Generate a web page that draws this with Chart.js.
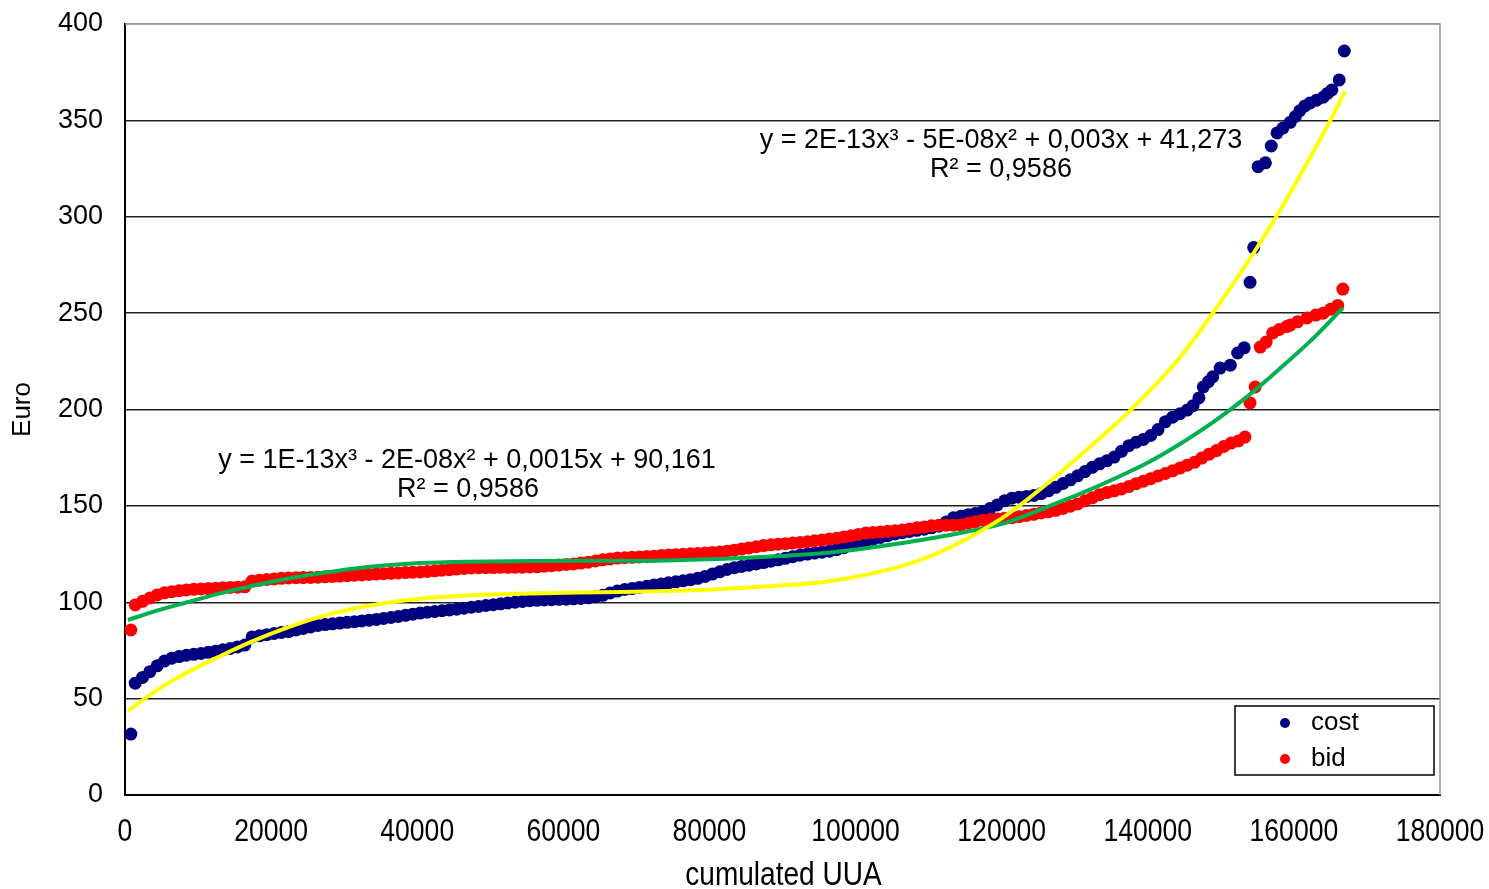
<!DOCTYPE html>
<html><head><meta charset="utf-8">
<script src="https://cdn.jsdelivr.net/npm/chart.js@4.4.1/dist/chart.umd.min.js"></script>
<style>html,body{margin:0;padding:0;background:#fff}#wrap{width:1489px;height:889px}</style>
</head><body><div id="wrap"><canvas id="c" width="1489" height="889"></canvas></div>
<script>
// x positions (cumulated UUA) of the dense part of both point clouds
const denseX = [1400,2400,3400,4400,5400,6400,7400,8400,9400,10400,
11400,12400,13400,14400,15400,16400,17400,18400,19400,20400,
21400,22400,23400,24400,25400,26400,27400,28400,29400,30400,
31400,32400,33400,34400,35400,36400,37400,38400,39400,40400,
41400,42400,43400,44400,45400,46400,47400,48400,49400,50400,
51400,52400,53400,54400,55400,56400,57400,58400,59400,60400,
61400,62400,63400,64400,65400,66400,67400,68400,69400,70400,
71400,72400,73400,74400,75400,76400,77400,78400,79400,80400,
81400,82400,83400,84400,85400,86400,87400,88400,89400,90400,
91400,92400,93400,94400,95400,96400,97400,98400,99400,100400,
101400,102400,103400,104400,105400,106400,107400,108400,109400,110400,
111400,112400,113400,114400,115400,116400,117400,118400,119400,120400,
121400,122400,123400,124400,125400,126400,127400,128400,129400,130400,
131400,132400,133400,134400,135400,136400,137400,138400,139400,140400,
141400,142400,143400,144400,145400,146400,147400,148400,149400,150400,
151400,152400];

// cost (Euro)
const costDenseY = [58,61,64,67,69.5,71,71.8,72.5,73,73.4,
74,74.6,75.3,76,76.8,77.8,82,82.6,83.2,83.8,
84.3,84.8,85.6,86.4,87.2,88,88.4,88.8,89.2,89.6,
89.9,90.3,90.7,91.1,91.6,92.1,92.6,93.2,93.8,94.4,
94.8,95.2,95.6,96,96.4,96.9,97.4,97.8,98.3,98.7,
99.2,99.6,100,100.4,100.8,101,101.2,101.3,101.5,101.6,
101.8,102,102.3,102.8,103.6,104.8,105.8,106.6,107.1,107.7,
108.3,108.9,109.5,110.1,110.6,111.1,111.7,112.4,113.4,114.6,
115.8,117,117.9,118.6,119.2,119.9,120.6,121.3,122,122.8,
123.6,124.4,125,125.5,126,126.5,127.3,128.3,129.4,130.5,
131.7,132.7,133.6,134.5,135.4,136.1,136.7,137.3,137.9,138.6,
139.5,141.6,143.8,144.6,145.4,146.1,147,148.6,150.5,152.6,
154,154.5,154.9,155.4,156.4,157.8,159.6,161.6,163.5,165.6,
167.8,170,171.8,173.4,175.3,178.3,181.2,183,184.5,186.5,
189.6,193.6,196,197.8,199.7];
const costHeadX = [800];
const costHeadY = [31.6];
const costTailX = [146200,147000,147600,148300,148900,149900,151300,152300,153200,154000,154500,155100,156100,156900,157700,158500,159500,160200,160800,161500,162200,163100,164000,164600,165200,166200,166900];
const costTailY = [202,206,211.7,214.5,217,221.5,223,229.3,232,266,284,326,328,336.7,343.5,346,349,352,355,357.5,359,360.5,362,364,365.8,371,386];

// bid (Euro)
const bidDenseY = [98.6,100.5,102.2,103.8,104.9,105.5,106,106.4,106.7,106.9,
107.1,107.3,107.5,107.7,107.8,108,111,111.4,111.8,112.1,
112.4,112.6,112.7,112.8,112.9,113,113.2,113.4,113.6,113.8,
114,114.2,114.4,114.6,114.8,115,115.2,115.4,115.6,115.7,
116,116.3,116.6,116.9,117.2,117.5,117.8,117.9,118,118,
118.1,118.1,118.2,118.2,118.3,118.4,118.7,119,119.3,119.6,
119.9,120.3,120.8,121.4,122,122.5,122.9,123.1,123.3,123.5,
123.7,123.9,124.2,124.5,124.7,124.9,125.1,125.3,125.6,125.8,
126.1,126.5,127,127.6,128.2,128.8,129.4,129.8,130.1,130.4,
130.7,131,131.4,131.9,132.3,132.8,133.2,133.8,134.5,135.2,
135.9,136.2,136.5,136.8,137.1,137.5,138,138.6,139.1,139.7,
140,140,140,140.1,141,141.8,142.6,142.9,143.2,143.6,
143.9,144.4,145,145.6,146.3,146.9,147.7,148.7,149.8,151,
152.6,154.2,155.8,156.9,157.8,158.8,160,161.5,162.8,164.1,
165.5,166.8,168.2,169.6,171.1,172.6,174.8,176.8,178.7,180.8,
182.6,183.7];
const bidHeadX = [800];
const bidHeadY = [85.6];
const bidTailX = [153300,154000,154700,155400,156200,157100,158000,159000,159500,160500,161800,163000,164000,165000,166000,166700];
const bidTailY = [185.7,203.4,211.7,232.4,235,239.7,241.5,243,243.8,245.5,247.5,249,250,252,254,262.5];

// polynomial trend lines
const costTrendX = [400,3800,8500,13000,17500,22200,26700,31200,35900,40400,46800,55800,65000,74200,81000,87900,96900,106000,110600,115200,119800,121500,126200,130700,135200,138000,141700,144400,148900,153600,157100,159900,163200,165400,167000];
const costTrendY = [43.6,53,63.5,72,79.8,86.8,92.4,96.6,99.7,101.8,103.5,104.6,105.2,105.8,106.7,108.3,111.2,118.5,124.5,132.8,143,147.5,161.5,176,191,201,215.5,227,250,276,297,315,337.5,353,365];
const bidTrendX = [400,3800,8500,13000,17500,22200,26700,31200,35900,40400,46800,55800,65000,74200,81000,87900,96900,106000,110600,115200,119800,121500,126200,130700,135200,139900,144400,148900,153600,158100,162600,166700];
const bidTrendY = [90.8,95,100,104.6,108.6,112.2,115,117.4,119.2,120.3,121,121.4,121.5,121.7,122.4,123.6,126,130.5,133.3,136.6,140.4,142.5,149.4,156.2,163.7,172.2,182.1,193.3,206.7,221.3,236.8,252.7];

const xTicks = [0,20000,40000,60000,80000,100000,120000,140000,160000,180000];
const yTicks = [0,50,100,150,200,250,300,350,400];
const seriesNames = ['cost','bid'];
const xTitle = 'cumulated UUA';
const yTitle = 'Euro';
const eqCost = 'y = 2E-13x³ - 5E-08x² + 0,003x + 41,273';
const eqBid = 'y = 1E-13x³ - 2E-08x² + 0,0015x + 90,161';
const r2Text = 'R² = 0,9586';

const FONT = "'Liberation Sans', Arial, sans-serif";
const NAVY = '#000080', RED = '#ff0000', YELLOW = '#ffff00', GREEN = '#00b050';

function pts(xs, ys){ return xs.map((x,i)=>({x:x, y:ys[i]})); }
const costX = costHeadX.concat(denseX.slice(0, costDenseY.length), costTailX);
const costY = costHeadY.concat(costDenseY, costTailY);
const bidX = bidHeadX.concat(denseX.slice(0, bidDenseY.length), bidTailX);
const bidY = bidHeadY.concat(bidDenseY, bidTailY);

// draw text horizontally condensed (narrow face look)
function narrowText(ctx, txt, x, y, size, sx){
  ctx.save();
  ctx.translate(x, y); ctx.scale(sx, 1);
  ctx.font = size + 'px ' + FONT; ctx.textAlign = 'center'; ctx.textBaseline = 'middle';
  ctx.fillStyle = '#000'; ctx.fillText(txt, 0, 0);
  ctx.restore();
}

const overlay = {
  id:'overlay',
  afterDraw(chart){
    const ctx = chart.ctx, a = chart.chartArea, xs = chart.scales.x;
    ctx.save();
    ctx.strokeStyle = '#999'; ctx.lineWidth = 1.5;
    ctx.beginPath(); ctx.moveTo(a.left, a.top); ctx.lineTo(a.right, a.top); ctx.lineTo(a.right, a.bottom); ctx.stroke();
    // x tick labels and title (narrow)
    xTicks.forEach(v => narrowText(ctx, String(v), xs.getPixelForValue(v), 832, 32, 0.83));
    narrowText(ctx, xTitle, (a.left + a.right) / 2 + 1, 876, 33, 0.85);
    // trend equations
    ctx.fillStyle = '#000'; ctx.font = '27px ' + FONT; ctx.textAlign = 'center'; ctx.textBaseline = 'middle';
    ctx.fillText(eqCost, 1001, 141);
    ctx.fillText(r2Text, 1001, 170);
    ctx.fillText(eqBid, 467, 461);
    ctx.fillText(r2Text, 468, 490);
    // legend
    ctx.fillStyle = '#fff'; ctx.fillRect(1235, 706, 199, 69);
    ctx.strokeStyle = '#000'; ctx.lineWidth = 1.5; ctx.strokeRect(1235, 706, 199, 69);
    const cols = [NAVY, RED], ys = [723, 759];
    ctx.textAlign = 'left'; ctx.font = '26px ' + FONT;
    for (let i=0;i<2;i++){
      ctx.fillStyle = cols[i]; ctx.beginPath(); ctx.arc(1285, ys[i], 5, 0, Math.PI*2); ctx.fill();
      ctx.fillStyle = '#000'; ctx.fillText(seriesNames[i], 1311, ys[i]);
    }
    ctx.restore();
  }
};

new Chart(document.getElementById('c'), {
  type:'scatter',
  data:{datasets:[
    {label:'cost trend', data:pts(costTrendX,costTrendY), showLine:true, borderColor:YELLOW, borderWidth:4, pointRadius:0, cubicInterpolationMode:'monotone', order:0},
    {label:'bid trend', data:pts(bidTrendX,bidTrendY), showLine:true, borderColor:GREEN, borderWidth:4, pointRadius:0, cubicInterpolationMode:'monotone', order:1},
    {label:seriesNames[1], data:pts(bidX,bidY), backgroundColor:RED, borderWidth:0, pointRadius:6.5, order:2},
    {label:seriesNames[0], data:pts(costX,costY), backgroundColor:NAVY, borderWidth:0, pointRadius:6.5, order:3}
  ]},
  options:{
    responsive:false, animation:false, devicePixelRatio:1,
    layout:{padding:{top:24,right:49,left:0,bottom:0}},
    plugins:{legend:{display:false}, tooltip:{enabled:false}},
    scales:{
      x:{type:'linear', min:0, max:180000,
        afterBuildTicks(s){ s.ticks = xTicks.map(v=>({value:v})); },
        ticks:{display:false},
        grid:{display:false, drawTicks:false},
        border:{display:true, color:'#000', width:2},
        title:{display:false},
        afterFit(s){ s.height = 94; s.paddingLeft = 0; s.paddingRight = 0; }
      },
      y:{min:0, max:400,
        afterBuildTicks(s){ s.ticks = yTicks.map(v=>({value:v})); },
        ticks:{color:'#000', font:{family:FONT,size:27}, padding:22, callback:v=>String(v)},
        grid:{color:c=>c.tick && c.tick.value===400 ? '#999' : '#222', lineWidth:1.5, drawTicks:false},
        border:{display:true, color:'#000', width:2},
        title:{display:true, text:yTitle, color:'#000', font:{family:FONT,size:26,lineHeight:1}, padding:{top:10,bottom:0}},
        afterFit(s){ s.width = 125; s.paddingTop = 0; s.paddingBottom = 0; }
      }
    }
  },
  plugins:[overlay]
});
</script></body></html>
